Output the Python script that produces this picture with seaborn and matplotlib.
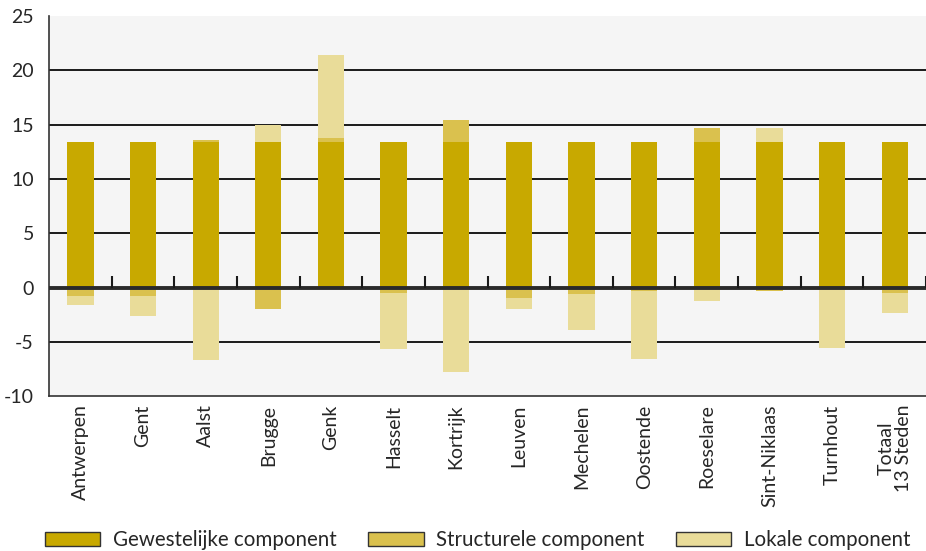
import numpy as np
import pandas as pd
import matplotlib
matplotlib.use("Agg")
import matplotlib.pyplot as plt
import seaborn as sns
from matplotlib.patches import Patch

categories = ["Antwerpen", "Gent", "Aalst", "Brugge", "Genk", "Hasselt", "Kortrijk",
              "Leuven", "Mechelen", "Oostende", "Roeselare", "Sint-Niklaas", "Turnhout",
              "Totaal\n13 Steden"]
gewestelijke = [13.4, 13.4, 13.4, 13.4, 13.4, 13.4, 13.4, 13.4, 13.4, 13.4, 13.4, 13.4, 13.4, 13.4]
structurele = [-0.8, -0.8, 0.2, -2.0, 0.4, -0.5, 2.0, -1.0, -0.6, -0.3, 1.3, -0.3, -0.1, -0.5]
lokale = [-0.8, -1.8, -6.7, 1.6, 7.6, -5.2, -7.8, -1.0, -3.3, -6.25, -1.2, 1.3, -5.5, -1.8]
legend_labels = ["Gewestelijke component", "Structurele component", "Lokale component"]
colors = ["#C8A900", "#DAC14E", "#E9DC99"]
yticks = [-10, -5, 0, 5, 10, 15, 20, 25]

sns.set_theme(style="white")
plt.rcParams["font.family"] = ["Lato", "DejaVu Sans"]

g = np.array(gewestelijke)
s = np.array(structurele)
l = np.array(lokale)
s_bottom = np.where(s >= 0, g, 0.0)
l_bottom = np.where(l >= 0, g + np.maximum(s, 0), np.minimum(s, 0))

df = pd.DataFrame({"cat": categories, "g": g, "s": s, "l": l})

fig = plt.figure(figsize=(9.26, 5.51), dpi=100)
ax = fig.add_axes([0.053, 0.281, 0.947, 0.690])
ax.set_facecolor("#F5F5F5")

for y in [-5, 5, 10, 15, 20]:
    ax.axhline(y, color="#1a1a1a", lw=1.4, zorder=1)

w = 0.42
sns.barplot(data=df, x="cat", y="g", color=colors[0], width=w, saturation=1,
            ax=ax, zorder=2, linewidth=0)
sns.barplot(data=df, x="cat", y="s", color=colors[1], width=w, saturation=1,
            ax=ax, bottom=s_bottom, zorder=2, linewidth=0)
sns.barplot(data=df, x="cat", y="l", color=colors[2], width=w, saturation=1,
            ax=ax, bottom=l_bottom, zorder=2, linewidth=0)

ax.axhline(0, color="#2a2a2a", lw=2.8, zorder=3)
ax.vlines(np.arange(len(categories)) + 0.5, 0, 1.1, color="#1a1a1a", lw=1.5, zorder=3)

ax.set_xlim(-0.5, len(categories) - 0.5)
ax.set_ylim(-10, 25)
ax.set_yticks(yticks)
ax.set_yticklabels([str(t) for t in yticks], fontsize=14)
ax.tick_params(axis="y", length=0, pad=11)
ax.tick_params(axis="x", length=0, pad=6)
ax.set_xticks(range(len(categories)))
ax.set_xticklabels(categories, rotation=90, fontsize=14, va="top", ha="center",
                   linespacing=1.0)
ax.set_xlabel("")
ax.set_ylabel("")
for sp in ["top", "right"]:
    ax.spines[sp].set_visible(False)
for sp in ["left", "bottom"]:
    ax.spines[sp].set_color("#333333")
    ax.spines[sp].set_linewidth(1.2)

handles = [Patch(facecolor=c, edgecolor="#333333", linewidth=1.0) for c in colors]
fig.legend(handles, legend_labels, loc="center", bbox_to_anchor=(0.516, 0.02),
           ncol=3, frameon=False, fontsize=14.8, handlelength=2.7, handleheight=0.7,
           handletextpad=0.63, columnspacing=1.5, borderpad=0.2)

fig.savefig("out.png", dpi=100, facecolor="white")
